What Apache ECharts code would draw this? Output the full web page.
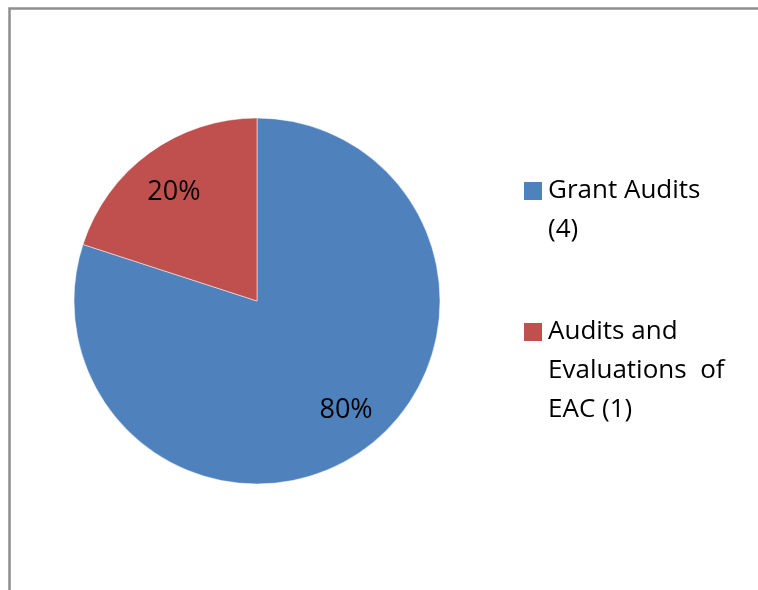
<!DOCTYPE html>
<html>
<head>
<meta charset="utf-8">
<script src="https://cdn.jsdelivr.net/npm/echarts@6/dist/echarts.min.js"></script>
<style>html,body{margin:0;padding:0;background:#fff}#c{width:758px;height:590px}</style>
</head>
<body>
<div id="c"></div>
<script>
const categories = ['Grant Audits (4)', 'Audits and Evaluations of EAC (1)'];
const legendLabels = ['Grant Audits\n(4)', 'Audits and\nEvaluations  of\nEAC (1)'];
const values = [4, 1];
const colors = ['#4F81BD', '#C0504D'];

const FONT = '"Open Sans", sans-serif';
const chart = echarts.init(document.getElementById('c'), null, {renderer: 'canvas'});

const pieData = categories.map((n, i) => ({name: n, value: values[i], itemStyle: {color: colors[i]}}));
const labelData = categories.map((n, i) => ({
  name: n, value: values[i],
  label: {offset: i === 0 ? [10, 0] : [-4, 0]}
}));

function legendFor(i, top) {
  const lines = legendLabels[i].split('\n');
  // prepend blank lines so the first line sits level with the icon
  const txt = '\n'.repeat(lines.length - 1) + legendLabels[i];
  return {
    orient: 'vertical', left: 522, top: top, padding: 0,
    itemWidth: 20, itemHeight: 20, icon: 'rect', selectedMode: false,
    data: [{name: categories[i], itemStyle: {color: colors[i]}}],
    formatter: () => txt,
    textStyle: {fontFamily: FONT, fontSize: 26, color: '#000', lineHeight: 39}
  };
}

chart.setOption({
  backgroundColor: '#fff',
  animation: false,
  graphic: [{
    type: 'rect', silent: true,
    shape: {x: 9.5, y: 8.5, width: 900, height: 800},
    style: {fill: 'none', stroke: '#8e8e8e', lineWidth: 2.5}
  }],
  legend: [legendFor(0, 132.5), legendFor(1, 234.5)],
  series: [{
    type: 'pie', center: [257, 301], radius: [0, 183], startAngle: 90, clockwise: true,
    label: {show: false}, labelLine: {show: false}, silent: true,
    itemStyle: {borderColor: '#fff', borderWidth: 0.5},
    data: pieData
  }, {
    type: 'pie', center: [257, 301], radius: [80, 183], startAngle: 90, clockwise: true,
    silent: true, z: 5,
    itemStyle: {color: 'rgba(0,0,0,0)'},
    label: {show: true, position: 'inside', formatter: '{d}%', fontFamily: FONT, fontSize: 27, color: '#000'},
    labelLine: {show: false},
    data: labelData
  }]
});
</script>
</body>
</html>
